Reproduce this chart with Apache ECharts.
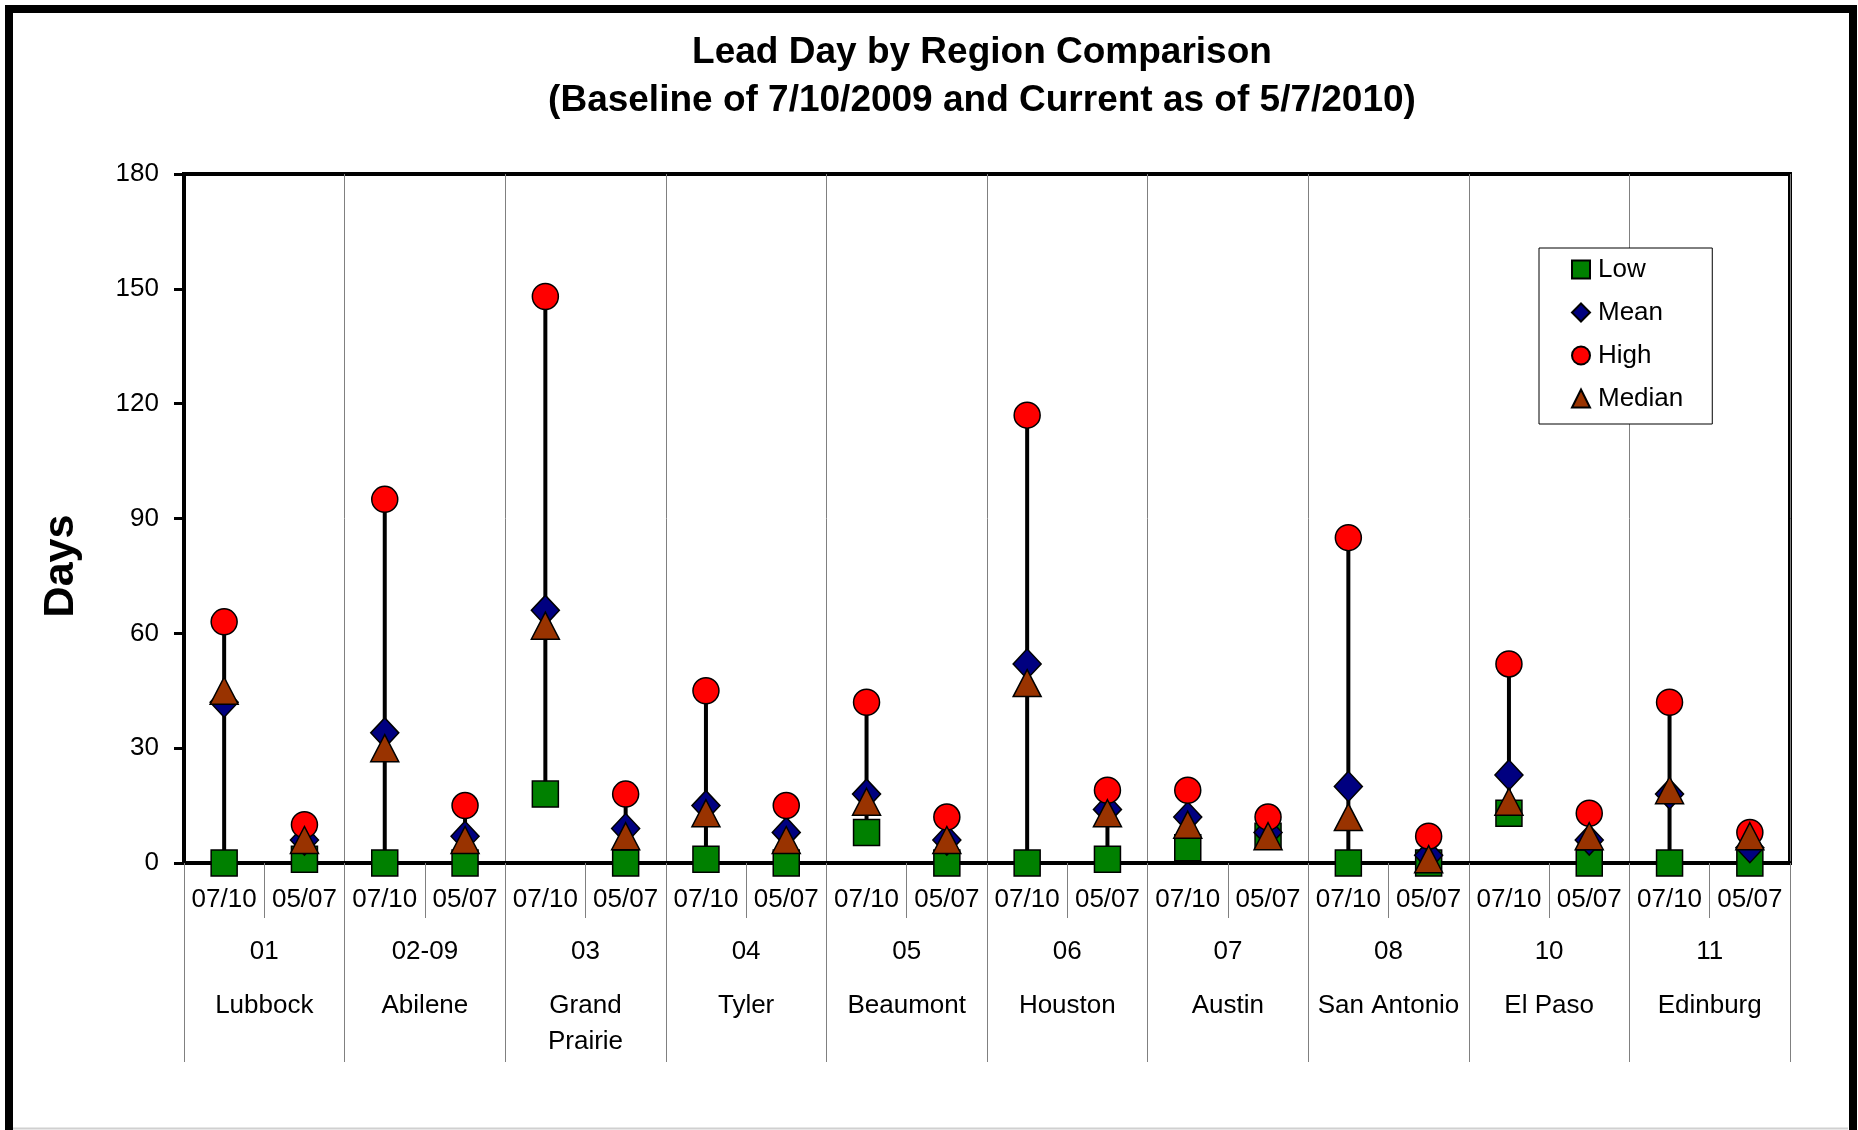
<!DOCTYPE html>
<html>
<head>
<meta charset="utf-8">
<title>Lead Day by Region Comparison</title>
<script src="https://cdn.jsdelivr.net/npm/echarts@6/dist/echarts.min.js"></script>
<style>
  html, body { margin: 0; padding: 0; background: #fff; }
  #main { width: 1858px; height: 1130px; }
</style>
</head>
<body>
<div id="main"></div>
<script>
// snapshot dates, two per region
const dates = ['07/10', '05/07', '07/10', '05/07', '07/10', '05/07', '07/10', '05/07', '07/10', '05/07',
  '07/10', '05/07', '07/10', '05/07', '07/10', '05/07', '07/10', '05/07', '07/10', '05/07'];
const regionCodes = ['01', '02-09', '03', '04', '05', '06', '07', '08', '10', '11'];
const regionNames = ['Lubbock', 'Abilene', 'Grand\nPrairie', 'Tyler', 'Beaumont', 'Houston', 'Austin', 'San Antonio', 'El Paso', 'Edinburg'];
const yTicks = [0, 30, 60, 90, 120, 150, 180];

// lead days
const lowDays    = [0, 1, 0, 0, 18, 0, 1, 0, 8, 0, 0, 1, 4, 7, 0, 0, 13, 0, 0, 0];
const meanDays   = [42, 6, 34, 7, 66, 9, 15, 8, 18, 6, 52, 14, 12, 8, 20, 2, 23, 6, 18, 4];
const highDays   = [63, 10, 95, 15, 148, 18, 45, 15, 42, 12, 117, 19, 19, 12, 85, 7, 52, 13, 42, 8];
const medianDays = [45, 6, 30, 6, 62, 7, 13, 6, 16, 6, 47, 13, 10, 7, 12, 1, 16, 7, 19, 7];

const FONT = '"Liberation Sans", Arial, Helvetica, sans-serif';

var chart = echarts.init(document.getElementById('main'), null, { renderer: 'canvas' });

// low-high range line for each date
const rangeData = dates.map((d, i) => [i, lowDays[i], highDays[i]]);

function markerStyle(color) {
  return { color: color, borderColor: '#000', borderWidth: 1.5, opacity: 1 };
}

var option = {
  backgroundColor: '#fff',
  animation: false,
  textStyle: { fontFamily: FONT },
  title: {
    text: 'Lead Day by Region Comparison\n(Baseline of 7/10/2009 and Current as of 5/7/2010)',
    left: 977,
    top: 24,
    textAlign: 'center',
    textStyle: { fontFamily: FONT, fontSize: 37, fontWeight: 'bold', color: '#000', lineHeight: 48 }
  },
  legend: {
    orient: 'vertical',
    left: 1539,
    top: 248,
    padding: [8, 29, 12, 32],
    itemGap: 16,
    itemWidth: 18,
    itemHeight: 18,
    backgroundColor: '#fff',
    borderColor: '#000',
    borderWidth: 1,
    borderRadius: 0,
    data: ['Low', 'Mean', 'High', 'Median'],
    textStyle: { fontFamily: FONT, fontSize: 26, color: '#000', lineHeight: 27, padding: [0, 0, 0, 3] }
  },
  grid: {
    left: 184,
    right: 68,
    top: 174,
    bottom: 267,
    show: true,
    borderColor: '#000',
    borderWidth: 4,
    backgroundColor: 'transparent'
  },
  xAxis: [
    {
      type: 'category',
      data: dates,
      position: 'bottom',
      axisLine: { lineStyle: { color: '#000', width: 4 } },
      axisTick: { show: true, interval: 0, length: 55, lineStyle: { color: '#808080', width: 1 } },
      axisLabel: { interval: 0, margin: 24, fontFamily: FONT, fontSize: 26, color: '#000' },
      splitLine: { show: false }
    },
    {
      type: 'category',
      data: regionCodes,
      position: 'bottom',
      axisLine: { show: false },
      axisTick: { show: true, interval: 0, length: 199, lineStyle: { color: '#808080', width: 1 } },
      splitLine: { show: true, interval: 0, lineStyle: { color: '#808080', width: 1 } },
      axisLabel: {
        interval: 0,
        margin: 53,
        formatter: function (value, index) {
          let name = regionNames[index].split('\n').map(s => '{b|' + s + '}').join('\n');
          return '{a|' + value + '}\n' + name;
        },
        rich: {
          a: { fontFamily: FONT, fontSize: 26, color: '#000', lineHeight: 72 },
          b: { fontFamily: FONT, fontSize: 26, color: '#000', lineHeight: 36 }
        }
      }
    }
  ],
  yAxis: {
    type: 'value',
    min: 0,
    max: 180,
    interval: 30,
    axisLine: { show: true, lineStyle: { color: '#000', width: 4 } },
    axisTick: { show: true, inside: false, length: 10, lineStyle: { color: '#000', width: 3 } },
    axisLabel: { margin: 25, fontFamily: FONT, fontSize: 26, color: '#000' },
    splitLine: { show: false }
  },
  graphic: [
    {
      type: 'rect',
      silent: true,
      shape: { x: 9, y: 9, width: 1844, height: 1200 },
      style: { fill: 'none', stroke: '#000', lineWidth: 8 }
    },
    {
      type: 'line',
      silent: true,
      shape: { x1: 13, y1: 1128.5, x2: 1848, y2: 1128.5 },
      style: { stroke: '#d0d0d0', lineWidth: 2 }
    },
    {
      type: 'text',
      x: 61,
      y: 566,
      rotation: Math.PI / 2,
      style: {
        text: 'Days',
        fontFamily: FONT,
        fontSize: 43,
        fontWeight: 'bold',
        fill: '#000',
        textAlign: 'center',
        textVerticalAlign: 'middle'
      }
    }
  ],
  series: [
    {
      name: 'Range',
      type: 'custom',
      xAxisIndex: 0,
      data: rangeData,
      encode: { x: 0, y: [1, 2] },
      renderItem: function (params, api) {
        let lo = api.coord([api.value(0), api.value(1)]);
        let hi = api.coord([api.value(0), api.value(2)]);
        return {
          type: 'line',
          shape: { x1: lo[0], y1: lo[1], x2: hi[0], y2: hi[1] },
          style: { stroke: '#000', lineWidth: 4 }
        };
      },
      z: 1
    },
    {
      name: 'Low',
      type: 'scatter',
      symbol: 'rect',
      symbolSize: 26,
      data: lowDays,
      itemStyle: markerStyle('#008000'),
      clip: false,
      z: 3
    },
    {
      name: 'Mean',
      type: 'scatter',
      symbol: 'diamond',
      symbolSize: [28, 30],
      data: meanDays,
      itemStyle: markerStyle('#000080'),
      clip: false,
      z: 3
    },
    {
      name: 'High',
      type: 'scatter',
      symbol: 'circle',
      symbolSize: 26,
      data: highDays,
      itemStyle: markerStyle('#ff0000'),
      clip: false,
      z: 3
    },
    {
      name: 'Median',
      type: 'scatter',
      symbol: 'triangle',
      symbolSize: [28, 27],
      data: medianDays,
      itemStyle: markerStyle('#993300'),
      clip: false,
      z: 3
    }
  ]
};

option && chart.setOption(option);
</script>
</body>
</html>
